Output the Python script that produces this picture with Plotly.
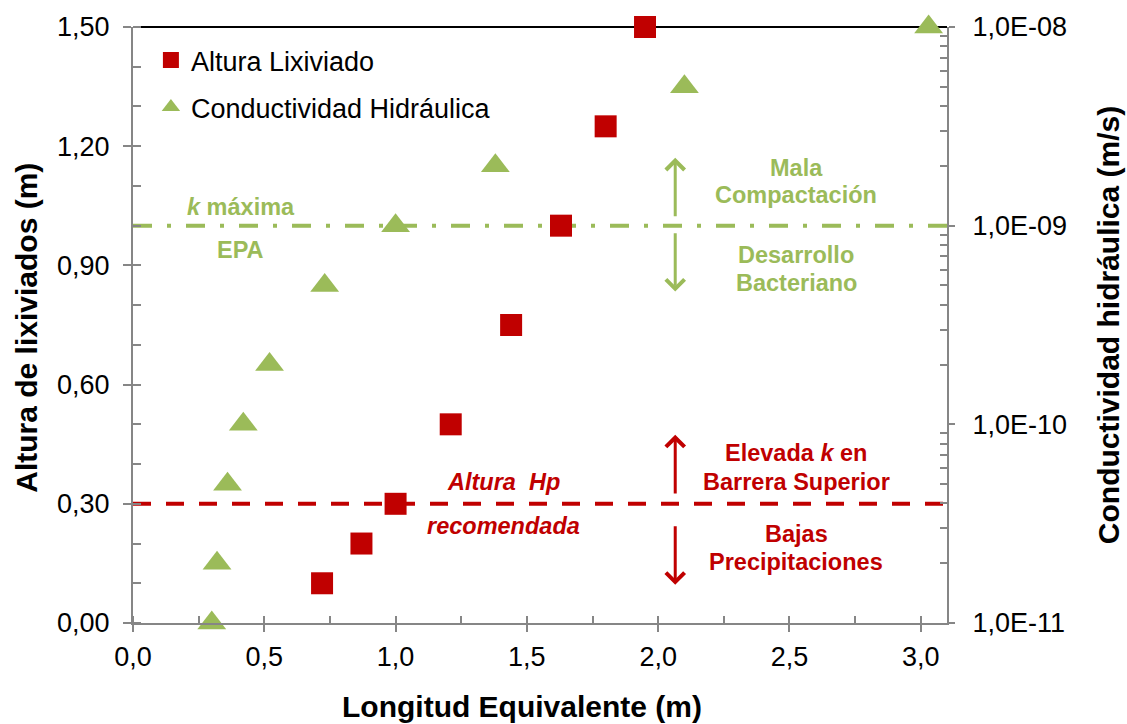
import numpy as np
import plotly.graph_objects as go

# Altura de lixiviado (m) frente a longitud equivalente (m)
long_altura = [0.72, 0.87, 1.00, 1.21, 1.44, 1.63, 1.80, 1.95]
altura_lix = [0.10, 0.20, 0.30, 0.50, 0.75, 1.00, 1.25, 1.50]

# Conductividad hidráulica (m/s) frente a longitud equivalente (m)
long_cond = [0.30, 0.32, 0.36, 0.42, 0.52, 0.73, 1.00, 1.38, 2.10, 3.03]
cond_hidr = [1e-11, 2e-11, 5e-11, 1e-10, 2e-10, 5e-10, 1e-9, 2e-9, 5e-9, 1e-8]

# Valores de referencia
k_max_epa = 1e-9
altura_hp_rec = 0.30

# Ejes
x_range = [0.0, 3.1]
y_range = [0.0, 1.5]
y2_range_log = [-11, -8]
x_ticks = [0.0, 0.5, 1.0, 1.5, 2.0, 2.5, 3.0]
y_ticks = [0.0, 0.3, 0.6, 0.9, 1.2, 1.5]
y2_ticks = [1e-11, 1e-10, 1e-9, 1e-8]
y2_labels = ["1,0E-11", "1,0E-10", "1,0E-09", "1,0E-08"]
y2_minor = [m * 10.0 ** e for e in range(-11, -8) for m in range(2, 10)]

RED = "#C00000"
GREEN = "#9BBB59"
AXIS = "#868686"
FONT = "Liberation Sans, Arial, sans-serif"

fig = go.Figure()

fig.add_trace(go.Scatter(
    x=long_altura, y=altura_lix, name="Altura Lixiviado",
    mode="markers", yaxis="y", legendgroup="a",
    marker=dict(symbol="square", size=22, color=RED),
    cliponaxis=False,
))
fig.add_trace(go.Scatter(
    x=long_cond, y=cond_hidr, name="Conductividad Hidráulica",
    mode="markers", yaxis="y2", legendgroup="b",
    marker=dict(symbol="triangle-up", size=25, color=GREEN),
    cliponaxis=False,
))

shapes = [
    # k máxima EPA
    dict(type="line", xref="x", yref="y2", x0=x_range[0], x1=x_range[1],
         y0=k_max_epa, y1=k_max_epa, layer="below",
         line=dict(color=GREEN, width=4, dash="19px,15px,4px,15px")),
    # altura Hp recomendada
    dict(type="line", xref="x", yref="y", x0=x_range[0], x1=x_range[1],
         y0=altura_hp_rec, y1=altura_hp_rec, layer="below",
         line=dict(color=RED, width=4, dash="18px,15px")),
    # borde superior
    dict(type="line", xref="paper", yref="paper", x0=0, x1=1, y0=1, y1=1,
         layer="below", line=dict(color="black", width=2)),
]

annotations = []

def texto(x, y, s, color, italic=False):
    if italic:
        s = "<i>" + s + "</i>"
    annotations.append(dict(
        x=x, y=y, xref="x", yref="y", text=s, showarrow=False,
        xanchor="center", yanchor="middle",
        font=dict(family=FONT, size=23.5, color=color, weight="bold"),
    ))

def flecha(x, y_tail, y_head, color):
    annotations.append(dict(
        x=x, y=y_head, ax=x, ay=y_tail, xref="x", yref="y",
        axref="x", ayref="y", text="", showarrow=True,
        arrowhead=4, arrowsize=1.2, arrowwidth=3, arrowcolor=color,
        standoff=0, startstandoff=0,
    ))

x_fl = 2.065
flecha(x_fl, 1.02, 1.171, GREEN)
flecha(x_fl, 0.985, 0.834, GREEN)
flecha(x_fl, 0.322, 0.474, RED)
flecha(x_fl, 0.247, 0.096, RED)

x_txt = 2.525
texto(x_txt, 1.146, "Mala", GREEN)
texto(x_txt, 1.076, "Compactación", GREEN)
texto(x_txt, 0.926, "Desarrollo", GREEN)
texto(x_txt, 0.856, "Bacteriano", GREEN)
texto(x_txt, 0.428, "Elevada <i>k</i> en", RED)
texto(x_txt, 0.355, "Barrera Superior", RED)
texto(x_txt, 0.224, "Bajas", RED)
texto(x_txt, 0.154, "Precipitaciones", RED)
texto(0.41, 1.048, "<i>k</i> máxima", GREEN)
texto(0.41, 0.940, "EPA", GREEN)
texto(1.41, 0.355, "Altura\u00a0\u00a0Hp", RED, italic=True)
texto(1.41, 0.244, "recomendada", RED, italic=True)

# Títulos de los ejes
title_font = dict(family=FONT, size=30, color="black", weight="bold")
annotations.append(dict(
    x=-0.131, y=0.496, xref="paper", yref="paper", text="Altura de lixiviados (m)",
    showarrow=False, textangle=-90, xanchor="center", yanchor="middle", font=title_font))
annotations.append(dict(
    x=1.198, y=0.5, xref="paper", yref="paper", text="Conductividad hidráulica (m/s)",
    showarrow=False, textangle=-90, xanchor="center", yanchor="middle", font=title_font))
annotations.append(dict(
    x=0.4775, y=-0.14, xref="paper", yref="paper", text="Longitud Equivalente (m)",
    showarrow=False, xanchor="center", yanchor="middle", font=title_font))

tick_font = dict(family=FONT, size=27, color="black")

fig.update_layout(
    width=1127, height=724,
    margin=dict(l=133, r=180, t=27, b=101),
    paper_bgcolor="white", plot_bgcolor="white",
    separators=",.",
    showlegend=True,
    legend=dict(
        x=0.022, y=0.985, xanchor="left", yanchor="top",
        font=dict(family=FONT, size=27, color="black"),
        bgcolor="rgba(0,0,0,0)", traceorder="grouped", tracegroupgap=9,
    ),
    xaxis=dict(
        range=x_range, tickvals=x_ticks, tickformat=".1f",
        showgrid=False, zeroline=False, showline=True,
        linecolor=AXIS, linewidth=2, ticks="outside", ticklen=7,
        tickcolor=AXIS, tickwidth=2, tickfont=tick_font,
        minor=dict(dtick=0.25, ticks="inside", ticklen=7, tickcolor=AXIS, tickwidth=2),
        ticklabelstandoff=2,
    ),
    yaxis=dict(
        range=y_range, tickvals=y_ticks, tickformat=".2f",
        showgrid=False, zeroline=False, showline=True,
        linecolor=AXIS, linewidth=2, ticks="outside", ticklen=8,
        tickcolor=AXIS, tickwidth=2, tickfont=tick_font,
        minor=dict(dtick=0.1, ticks="inside", ticklen=8, tickcolor=AXIS, tickwidth=2),
        ticklabelstandoff=8,
    ),
    yaxis2=dict(
        type="log", range=y2_range_log, overlaying="y", side="right",
        tickvals=y2_ticks, ticktext=y2_labels,
        showgrid=False, zeroline=False, showline=True,
        linecolor=AXIS, linewidth=2, ticks="outside", ticklen=6,
        tickcolor=AXIS, tickwidth=2, tickfont=tick_font,
        minor=dict(tickvals=y2_minor, ticks="inside", ticklen=7, tickcolor=AXIS, tickwidth=2),
        ticklabelstandoff=12,
    ),
    shapes=shapes,
    annotations=annotations,
)

fig.write_html("out.html")
